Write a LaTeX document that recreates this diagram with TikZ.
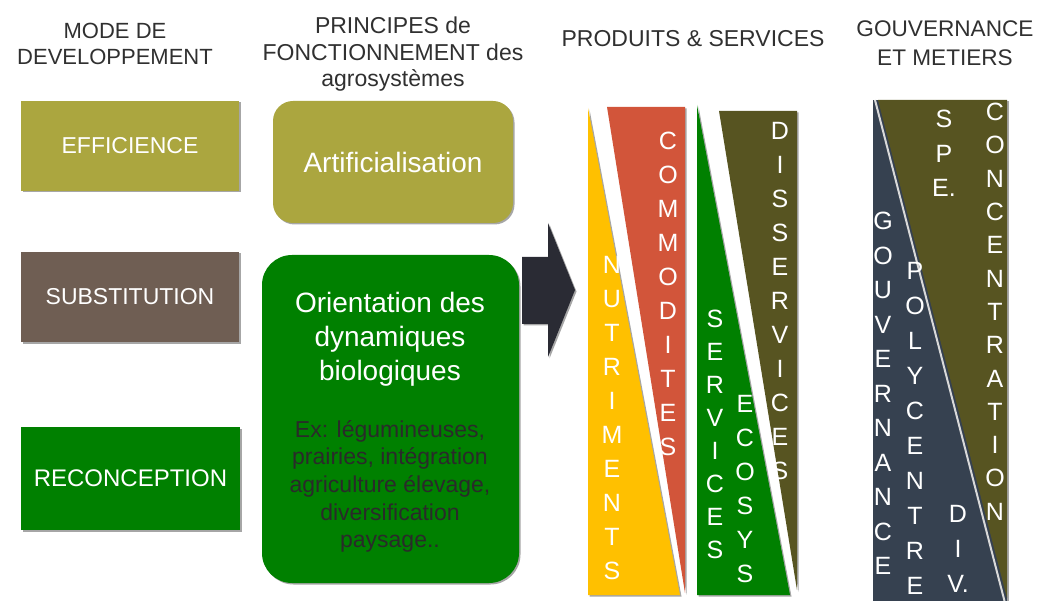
\documentclass[tikz,border=0pt]{standalone}
\usepackage{fontspec}
\setmainfont{Liberation Sans}
\usetikzlibrary{shadows}
\definecolor{olivebox}{HTML}{ABA63F}
\definecolor{brownbox}{HTML}{6F5E53}
\definecolor{greenbox}{HTML}{008000}
\definecolor{arrowc}{HTML}{2A2B34}
\definecolor{yellowt}{HTML}{FFC000}
\definecolor{redt}{HTML}{D2553A}
\definecolor{darkolive}{HTML}{575421}
\definecolor{slate}{HTML}{364150}
\definecolor{headc}{HTML}{303030}
\definecolor{extext}{HTML}{2A2A2A}
\begin{document}
\begin{tikzpicture}[x=1pt,y=-1pt,
  shad/.style={drop shadow={shadow xshift=1.5pt,shadow yshift=-1.5pt,opacity=0.35,fill=black}},
  head/.style={text=headc,align=center,inner sep=0pt,anchor=north},
  modebox/.style={shad,minimum width=218pt,minimum height=90pt,inner sep=0pt,text=white,font=\fontsize{23}{26}\selectfont},
  princbox/.style={shad,inner sep=0pt,text=white},
  vstack/.style={text=white,align=center,inner sep=0pt,anchor=north,font=\fontsize{25}{34}\selectfont}
]
\useasboundingbox (0,0) rectangle (1038,601);

% headings
\node[head,font=\fontsize{22}{25.5}\selectfont] (h1) at (115,23) {MODE DE\\DEVELOPPEMENT};
\node[head,font=\fontsize{23}{26.5}\selectfont] (h2) at (393,17) {PRINCIPES de\\FONCTIONNEMENT des\\agrosystèmes};
\node[head,font=\fontsize{23}{26}\selectfont] (h3) at (693,30) {PRODUITS \& SERVICES};
\node[head,font=\fontsize{22.6}{29}\selectfont] (h4) at (945,21) {GOUVERNANCE\\ET METIERS};

% mode de developpement
\node[modebox,fill=olivebox] (eff) at (130,146) {EFFICIENCE};
\node[modebox,fill=brownbox] (sub) at (130,297) {SUBSTITUTION};
\node[modebox,fill=greenbox,minimum width=219pt,minimum height=103pt,font=\fontsize{24}{26}\selectfont] (rec) at (130.5,478.5) {RECONCEPTION};

% principes
\node[princbox,fill=olivebox,rounded corners=20pt,minimum width=240pt,minimum height=122pt,font=\fontsize{28}{34}\selectfont] (art) at (393,162) {Artificialisation};
\node[princbox,fill=greenbox,rounded corners=30pt,minimum width=257pt,minimum height=328pt] (ori) at (390.5,419) {};
\node[text=white,align=center,inner sep=0pt,anchor=north,font=\fontsize{28}{34}\selectfont] (orit) at (390,292) {Orientation des\\dynamiques\\biologiques};
\node[text=extext,align=center,inner sep=0pt,anchor=north,font=\fontsize{23}{27.7}\selectfont] (orix) at (390,420) {Ex: légumineuses,\\prairies, intégration\\agriculture élevage,\\diversification\\paysage..};

% block arrow
\fill[arrowc,shad] (522,257) -- (548,257) -- (548,223) -- (575,290) -- (548,357) -- (548,324) -- (522,324) -- cycle;

% produits & services triangles
\fill[yellowt,shad] (588,108) -- (588,595) -- (680,595) -- cycle;
\fill[redt,shad] (607,107) -- (685,107) -- (685,593) -- cycle;
\fill[greenbox,shad] (697,105) -- (697,595) -- (790,595) -- cycle;
\fill[darkolive,shad] (719,111) -- (797,111) -- (797,590) -- cycle;

\node[vstack] (nut) at (612,256) {N\\U\\T\\R\\I\\M\\E\\N\\T\\S};
\node[vstack] (com) at (668,132) {C\\O\\M\\M\\O\\D\\I\\T\\E\\S};
\node[vstack,font=\fontsize{25}{33}\selectfont] (serv) at (715,310) {S\\E\\R\\V\\I\\C\\E\\S};
\node[vstack] (eco) at (745,395) {E\\C\\O\\S\\Y\\S};
\node[vstack] (dis) at (780,122) {D\\I\\S\\S\\E\\R\\V\\I\\C\\E\\S};

% gouvernance
\fill[slate,shad] (873,100) rectangle (1007,601);
\fill[darkolive] (878,100) -- (1007,100) -- (1007,598) -- cycle;
\draw[white!85!black,line width=2pt] (875,100) -- (1004.5,601);

\node[vstack,font=\fontsize{25}{34.5}\selectfont] (gouv) at (883,212) {G\\O\\U\\V\\E\\R\\N\\A\\N\\C\\E};
\node[vstack,font=\fontsize{25}{35}\selectfont] (poly) at (915,262) {P\\O\\L\\Y\\C\\E\\N\\T\\R\\E};
\node[vstack,font=\fontsize{25}{34.5}\selectfont] (spe) at (944,110) {S\\P\\E.};
\node[vstack,font=\fontsize{25}{33.3}\selectfont] (conc) at (995,103) {C\\O\\N\\C\\E\\N\\T\\R\\A\\T\\I\\O\\N};
\node[vstack,font=\fontsize{25}{35}\selectfont] (div) at (958,505) {D\\I\\V.};
\end{tikzpicture}
\end{document}
